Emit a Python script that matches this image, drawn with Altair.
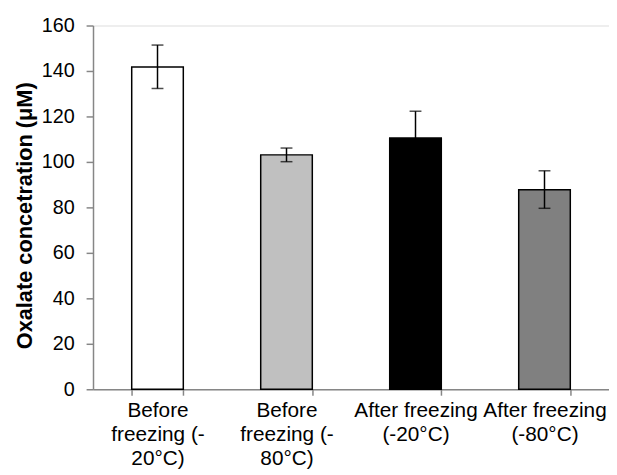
import altair as alt
import pandas as pd

categories = ["Before|freezing (-|20°C)", "Before|freezing (-|80°C)", "After freezing|(-20°C)", "After freezing|(-80°C)"]
values = [141.8, 103.1, 110.5, 87.8]
err_low = [132.3, 100.1, 98.7, 79.6]
err_high = [151.4, 106.1, 122.3, 96.1]
colors = ["#ffffff", "#c0c0c0", "#000000", "#808080"]
y_title = "Oxalate concetration (μM)"

df = pd.DataFrame({"cat": categories, "val": values, "lo": err_low, "hi": err_high, "col": colors})

x = alt.X("cat:N", sort=categories, title=None,
          scale=alt.Scale(paddingInner=0.6, paddingOuter=0.3),
          axis=alt.Axis(labelExpr="split(datum.label, '|')", labelAngle=0, labelFontSize=21,
                        labelFont="Liberation Sans", labelColor="#000000", labelLineHeight=24,
                        labelPadding=5, domainColor="#868686", tickColor="#868686", tickSize=6,
                        domainWidth=1.5, tickWidth=1.5,
                        tickBand="extent", labelBaseline="top", labelLimit=200))
y = alt.Y("val:Q", title=y_title,
          scale=alt.Scale(domain=[0, 160], nice=False),
          axis=alt.Axis(values=[0, 20, 40, 60, 80, 100, 120, 140, 160], grid=False,
                        labelFontSize=20, labelFont="Liberation Sans", labelColor="#000000",
                        titleFontSize=22, titleFont="Liberation Sans", titleFontWeight="bold",
                        titleColor="#000000", titlePadding=5, titleY=192,
                        domainColor="#868686", tickColor="#868686", tickSize=7, labelPadding=12,
                        domainWidth=1.5, tickWidth=1.5))

bars = alt.Chart(df).mark_bar(stroke="#000000", strokeWidth=1.5).encode(
    x=x, y=y, fill=alt.Fill("col:N", scale=None))
err = alt.Chart(df).mark_errorbar(ticks=alt.TickConfig(size=12, thickness=1.5), thickness=1.5, color="#000000").encode(
    x=alt.X("cat:N", sort=categories), y=alt.Y("lo:Q", title=y_title), y2="hi:Q")

chart = alt.layer(bars, err).properties(
    width=522, height=368,
    autosize=alt.AutoSizeParams(type="none"),
    padding={"left": 86, "top": 15, "right": 0, "bottom": 83},
).configure_view(stroke=None).configure(background="#ffffff")

chart.save("out.html", embed_options={"renderer": "svg", "actions": False})
